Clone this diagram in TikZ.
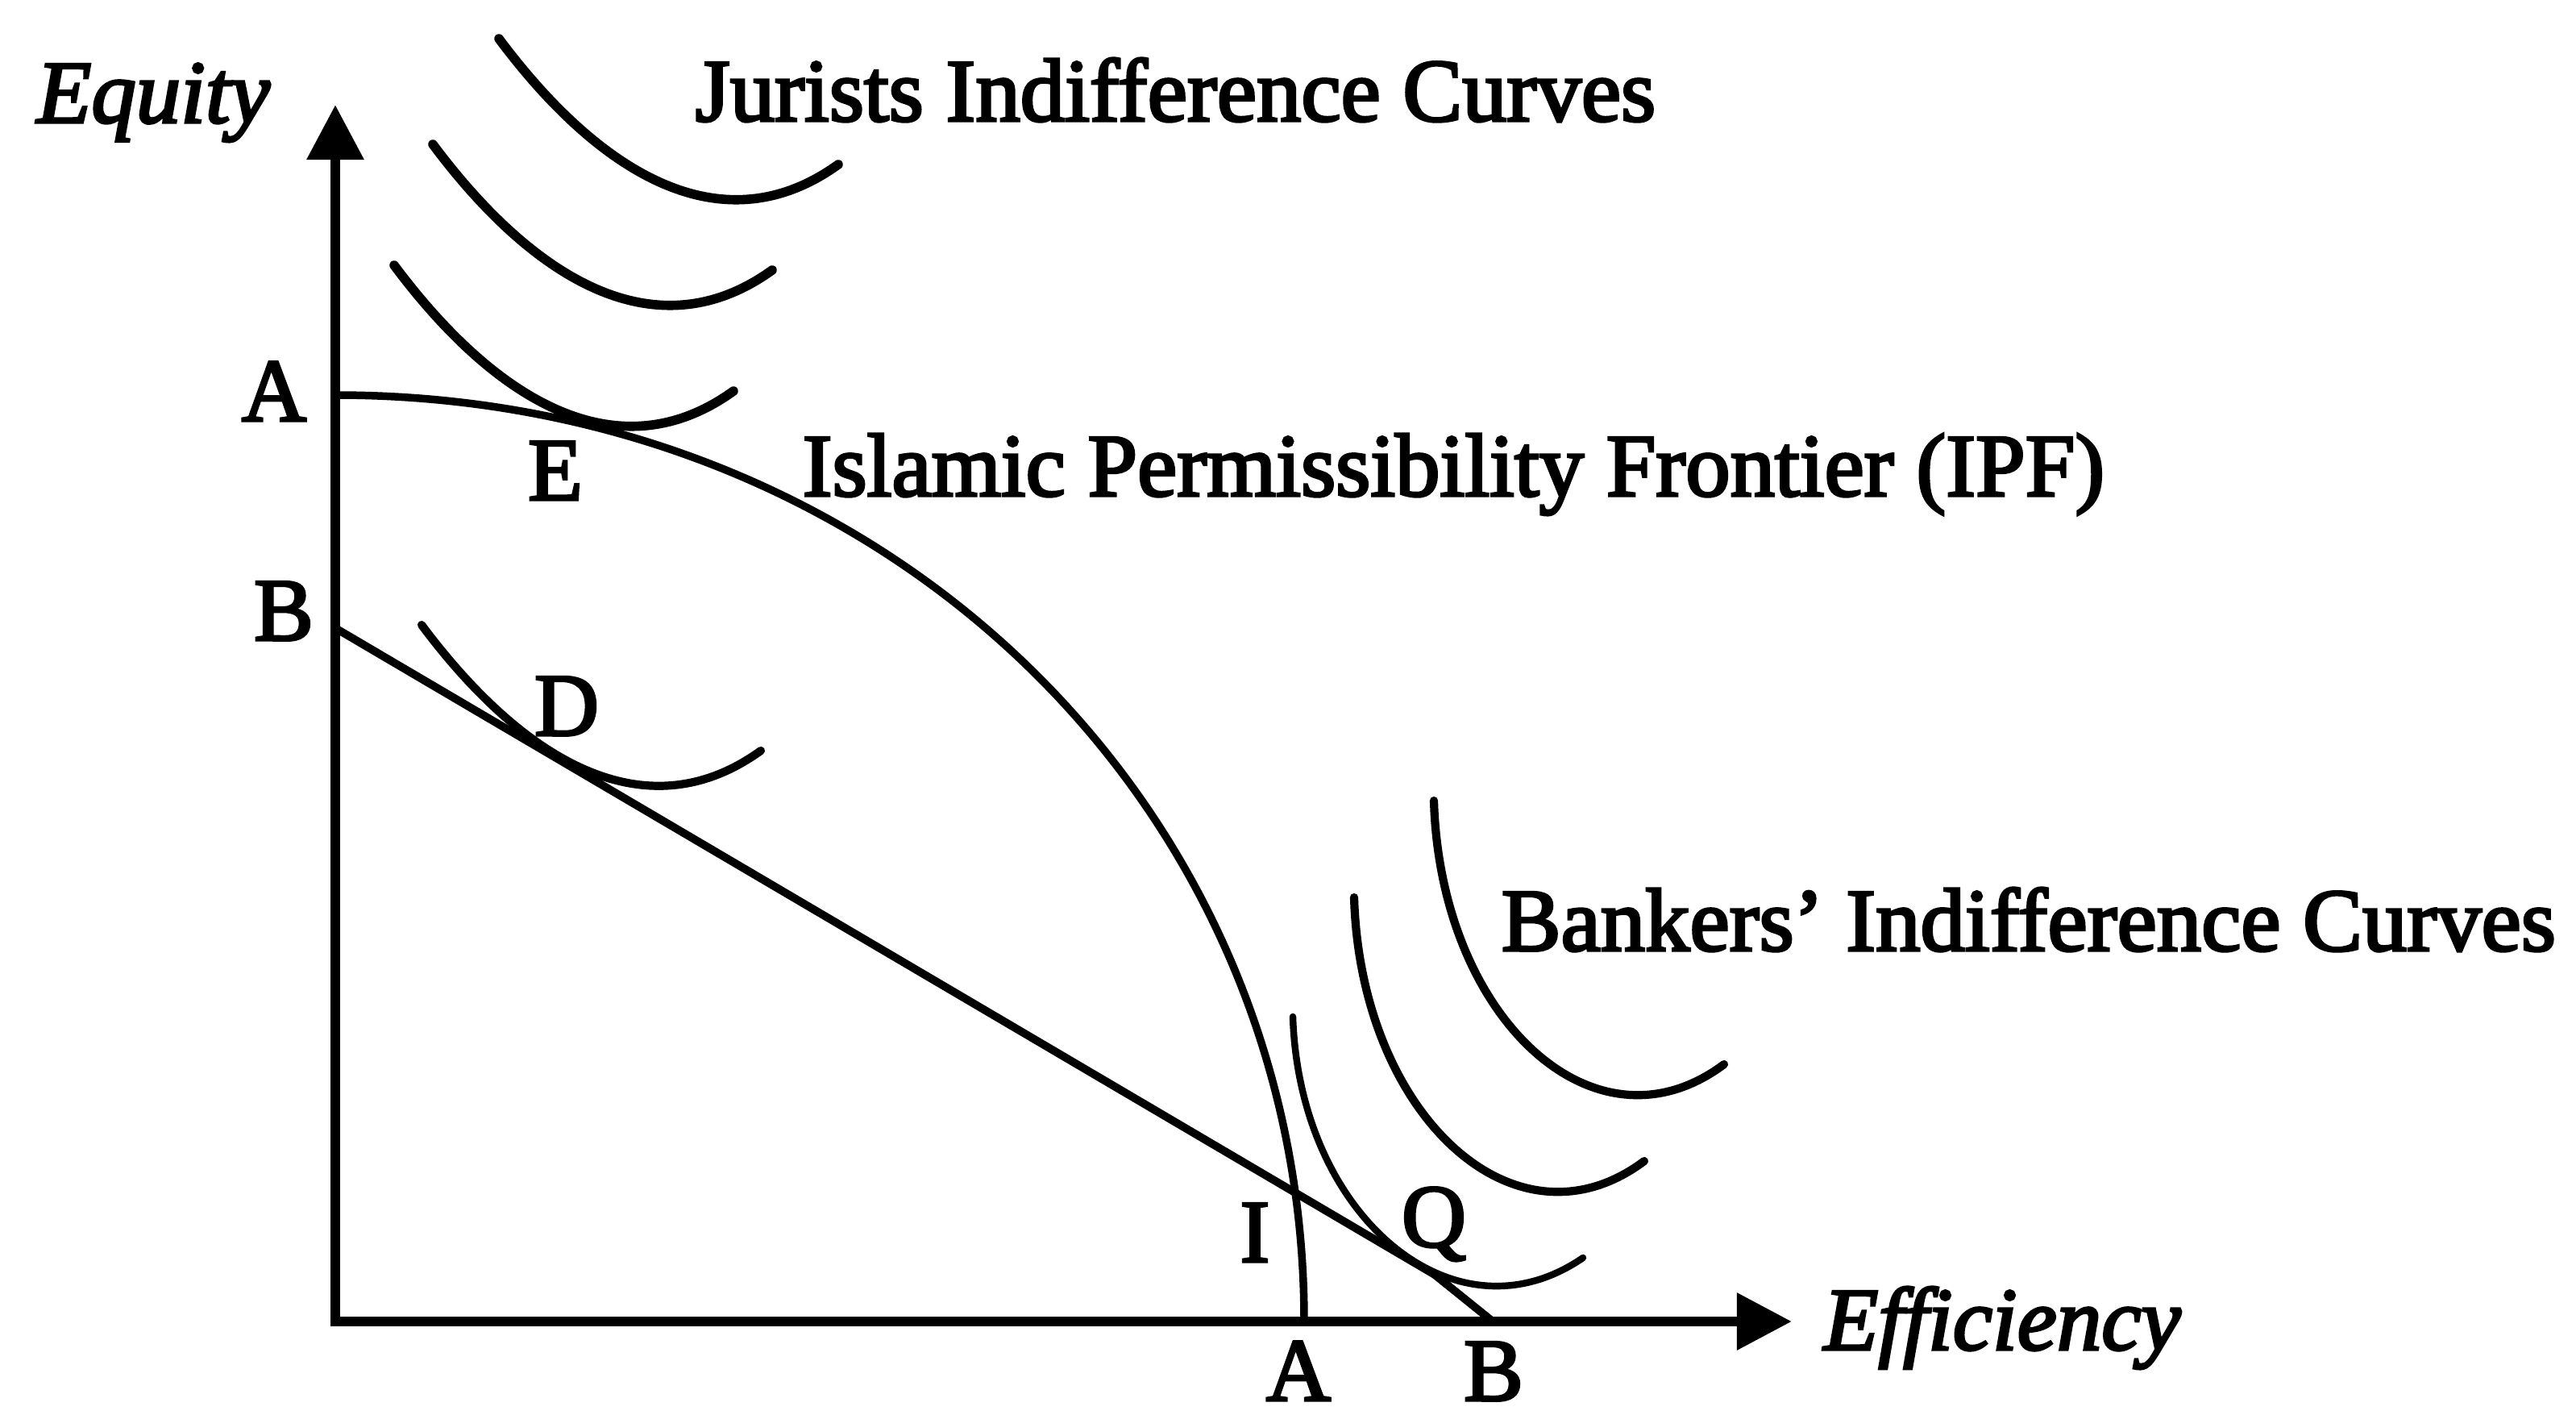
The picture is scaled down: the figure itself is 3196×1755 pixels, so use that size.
\documentclass[tikz,border=0pt]{standalone}
\usepackage{fontspec}
\setmainfont{Liberation Serif}[FakeBold=3]
\usetikzlibrary{arrows.meta}
\begin{document}
\begin{tikzpicture}[x=0.01cm,y=-0.01cm,
  lbl/.style={inner sep=0pt, font=\fontsize{31.5}{38}\selectfont},
  axisline/.style={line width=3.6pt, line join=miter,
    {Triangle[length=0.68cm,width=0.68cm]}-{Triangle[length=0.68cm,width=0.68cm]}},
  jcurve/.style={line width=3.3pt, line cap=round},
  bcurve/.style={line width=2.9pt, line cap=round},
  thincurve/.style={line width=2.4pt, line cap=round},
  frontier/.style={line width=2.7pt},
  budget/.style={line width=2.8pt, line join=round}]
\useasboundingbox (0,0) rectangle (3196,1755);

% axes
\coordinate (O) at (416,1639);
\coordinate (ytip) at (416,130);
\coordinate (xtip) at (2223,1639);
\draw[axisline] (ytip) -- (O) -- (xtip);

% axis labels
\node[lbl, anchor=base west, font=\fontsize{31.5}{38}\selectfont\itshape] (equity) at (45,152) {Equity};
\node[lbl, anchor=base west, font=\fontsize{31.5}{38}\selectfont\itshape] (effic) at (2262,1674) {Efficiency};

% Islamic Permissibility Frontier
\coordinate (Ay) at (416,490);
\coordinate (Ax) at (1618,1639);
\draw[frontier] (Ay) .. controls (1100,490) and (1618,1000) .. (Ax);

% budget line B-B
\coordinate (By) at (416,779);
\coordinate (Bq) at (1780,1581);
\coordinate (Bx) at (1852,1639);
\draw[budget] (By) -- (Bq) -- (Bx);

% Jurists' indifference curves (same shape, shifted)
\draw[jcurve] (619,48) .. controls (749,222) and (900,305) .. (1040,204);
\draw[jcurve, shift={(-82,131)}] (619,48) .. controls (749,222) and (900,305) .. (1040,204);
\draw[jcurve, shift={(-130,281)}] (619,48) .. controls (749,222) and (900,305) .. (1040,204);
% curve at D
\draw[bcurve, shift={(-96,727)}] (619,48) .. controls (749,222) and (900,305) .. (1040,204);

% Bankers' indifference curves
\draw[thincurve] (1604,1261) .. controls (1612,1508) and (1804,1670) .. (1964,1560);
\draw[bcurve, shift={(-99,120)}] (1779,993) .. controls (1787,1263) and (1979,1440) .. (2139,1320);
\draw[bcurve] (1779,993) .. controls (1787,1263) and (1979,1440) .. (2139,1320);

% labels
\node[lbl, anchor=base west] (jur) at (862,150) {Jurists Indifference Curves};
\node[lbl, anchor=base west] (ipf) at (995,615) {Islamic Permissibility Frontier (IPF)};
\node[lbl, anchor=base west] (bank) at (1862,1179) {Bankers’ Indifference Curves};
\node[lbl, anchor=base] (lA) at (340,522) {A};
\node[lbl, anchor=base] (lB) at (352,794) {B};
\node[lbl, anchor=base] (lE) at (689,620) {E};
\node[lbl, anchor=base] (lD) at (703,912) {D};
\node[lbl, anchor=base] (lI) at (1557,1565) {I};
\node[lbl, anchor=base] (lQ) at (1779,1546) {Q};
\node[lbl, anchor=base] (bA) at (1611,1737) {A};
\node[lbl, anchor=base] (bB) at (1853,1737) {B};
\end{tikzpicture}
\end{document}
